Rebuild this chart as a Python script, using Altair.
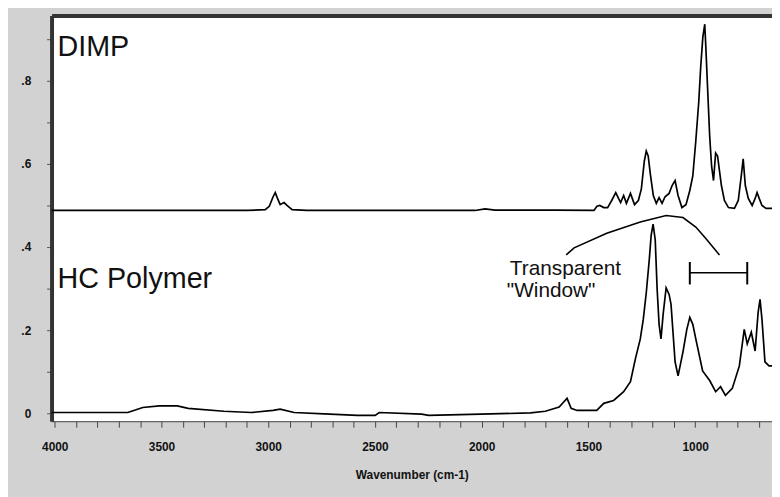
import altair as alt
import pandas as pd

# ---- DIMP spectrum (offset trace) ----
dimp_w = [4015, 3561, 3097, 3014, 2995, 2977, 2967, 2958, 2944, 2926, 2912, 2888, 2819,
          2031, 1984, 1938, 1660, 1474, 1460, 1447, 1428, 1410, 1391, 1372, 1359, 1349,
          1335, 1322, 1303, 1284, 1266, 1252, 1238, 1229, 1220, 1210, 1196, 1182, 1169,
          1155, 1141, 1122, 1108, 1094, 1080, 1062, 1043, 1025, 1011, 997, 983, 974, 964,
          955, 951, 941, 932, 923, 914, 904, 895, 886, 877, 863, 844, 816, 798, 784, 775,
          765, 751, 733, 719, 710, 700, 687, 668, 640]
dimp_v = [0.488, 0.488, 0.488, 0.490, 0.498, 0.521, 0.531, 0.519, 0.502, 0.507, 0.500, 0.490, 0.488,
          0.488, 0.492, 0.489, 0.489, 0.488, 0.498, 0.500, 0.495, 0.495, 0.512, 0.531, 0.517, 0.507,
          0.524, 0.505, 0.529, 0.502, 0.512, 0.540, 0.607, 0.631, 0.619, 0.576, 0.524, 0.505, 0.519,
          0.505, 0.521, 0.529, 0.548, 0.560, 0.524, 0.495, 0.502, 0.536, 0.571, 0.655, 0.750, 0.833, 0.905,
          0.936, 0.893, 0.774, 0.667, 0.595, 0.560, 0.626, 0.619, 0.583, 0.548, 0.512, 0.495, 0.493, 0.512, 0.571, 0.612,
          0.548, 0.517, 0.500, 0.517, 0.531, 0.517, 0.500, 0.493, 0.493]

# ---- HC Polymer spectrum ----
hc_w = [4015, 3658, 3640, 3588, 3510, 3426, 3375, 3208, 3079, 2977, 2944, 2879, 2712, 2582,
        2499, 2480, 2281, 2249, 2003, 1771, 1702, 1637, 1618, 1600, 1581, 1553, 1461, 1428,
        1382, 1335, 1303, 1280, 1257, 1243, 1229, 1215, 1206, 1197, 1187, 1178, 1169, 1160,
        1150, 1136, 1122, 1113, 1094, 1080, 1057, 1039, 1025, 1011, 997, 965, 932, 904, 881,
        858, 826, 793, 770, 756, 737, 719, 705, 696, 687, 673, 654, 640]
hc_v = [0.002, 0.002, 0.005, 0.014, 0.018, 0.018, 0.012, 0.005, 0.002, 0.007, 0.010, 0.002, -0.002, -0.005,
        -0.005, 0.002, -0.002, -0.005, -0.002, 0.001, 0.005, 0.015, 0.026, 0.036, 0.012, 0.007, 0.007, 0.024,
        0.031, 0.052, 0.076, 0.131, 0.179, 0.226, 0.290, 0.369, 0.429, 0.455, 0.417, 0.298, 0.214, 0.179,
        0.238, 0.302, 0.286, 0.262, 0.124, 0.090, 0.148, 0.202, 0.231, 0.214, 0.179, 0.102, 0.079, 0.052, 0.064,
        0.043, 0.060, 0.114, 0.202, 0.167, 0.195, 0.150, 0.243, 0.274, 0.226, 0.124, 0.114, 0.114]

assert len(dimp_w) == len(dimp_v)
assert len(hc_w) == len(hc_v)

# ---- "Transparent Window" annotation ----
arc_w = [1604, 1567, 1414, 1257, 1136, 1057, 997, 951, 886]
arc_v = [0.381, 0.398, 0.433, 0.460, 0.476, 0.471, 0.448, 0.421, 0.381]
bracket_w = [1025, 756]
bracket_v = 0.338
bracket_cap = [0.364, 0.310]

labels_text = ["DIMP", "HC Polymer", "Transparent", "\"Window\""]
labels_w = [3987, 3987, 1868, 1882]
labels_v = [0.860, 0.302, 0.333, 0.280]
labels_size = [29, 29, 21, 21]

x_ticks = list(range(700, 4001, 100))
y_ticks = [round(0.1 * i, 1) for i in range(0, 10)]

spec = pd.concat([
    pd.DataFrame({"w": dimp_w, "v": dimp_v, "series": "DIMP"}),
    pd.DataFrame({"w": hc_w, "v": hc_v, "series": "HC Polymer"}),
])
arc = pd.DataFrame({"w": arc_w, "v": arc_v})
hbar = pd.DataFrame({"w": [bracket_w[0]], "w2": [bracket_w[1]], "v": [bracket_v]})
caps = pd.DataFrame({"w": bracket_w, "v": [bracket_cap[0]] * 2, "v2": [bracket_cap[1]] * 2})
texts = pd.DataFrame({"t": labels_text, "w": labels_w, "v": labels_v, "s": labels_size})

xscale = alt.Scale(domain=[640, 4015], reverse=True, nice=False, zero=False)
yscale = alt.Scale(domain=[-0.019, 0.957], nice=False, zero=False)

FONT = "Liberation Sans"

x_bottom = alt.X("w:Q", scale=xscale, axis=alt.Axis(
    orient="bottom", values=x_ticks, title="Wavenumber (cm-1)",
    labelExpr="datum.value % 500 === 0 ? format(datum.value, 'd') : ''",
    labelFont=FONT, labelFontSize=12, labelFontWeight="bold", labelColor="#111",
    titleFont=FONT, titleFontSize=12, titleFontWeight="bold", titleColor="#111",
    titlePadding=17, labelPadding=15, tickSize=6, tickColor="#444", tickWidth=1,
    domainColor="#444", domainWidth=1, grid=False, labelFlush=False))

y_left = alt.Y("v:Q", scale=yscale, axis=alt.Axis(
    orient="left", values=y_ticks, title=None,
    labelExpr="abs(datum.value) < 0.001 ? '0' : (round(datum.value*10) % 2 == 0 ? replace(format(datum.value, '.1f'), '0.', '.') : '')",
    labelFont=FONT, labelFontSize=12, labelFontWeight="bold", labelColor="#111",
    labelPadding=16, tickSize=5, tickColor="#555", domainColor="#333", domainWidth=4,
    grid=False))

lines = alt.Chart(spec).mark_line(color="black", strokeWidth=1.7).encode(
    x=x_bottom, y=y_left, detail="series:N")

top_axis = alt.Chart(arc).mark_line(color="black", strokeWidth=1.6).encode(
    x=alt.X("w:Q", scale=xscale, axis=alt.Axis(orient="top", title=None, labels=False,
                                               ticks=False, domainColor="#333", domainWidth=4)),
    y=alt.Y("v:Q", scale=yscale, axis=None))

hrule = alt.Chart(hbar).mark_rule(color="black", strokeWidth=1.6).encode(
    x=alt.X("w:Q", scale=xscale, axis=None), x2="w2:Q",
    y=alt.Y("v:Q", scale=yscale, axis=None))
vcaps = alt.Chart(caps).mark_rule(color="black", strokeWidth=2).encode(
    x=alt.X("w:Q", scale=xscale, axis=None),
    y=alt.Y("v:Q", scale=yscale, axis=None), y2="v2:Q")

txt = alt.Chart(texts).mark_text(align="left", baseline="alphabetic", font=FONT,
                                  color="#111").encode(
    x=alt.X("w:Q", scale=xscale, axis=None),
    y=alt.Y("v:Q", scale=yscale, axis=None),
    text="t:N", size=alt.Size("s:Q", scale=None, legend=None))

chart = alt.layer(lines, top_axis, hrule, vcaps, txt).resolve_axis(
    x="independent", y="independent").properties(
    width=728, height=410,
    padding={"left": 44, "top": 5, "right": 0, "bottom": 74},
    autosize=alt.AutoSizeParams(type="none"),
    background="#d2d2d2",
).configure_view(stroke=None, fill="white")

chart.save("out.html", embed_options={"renderer": "svg", "actions": False})
